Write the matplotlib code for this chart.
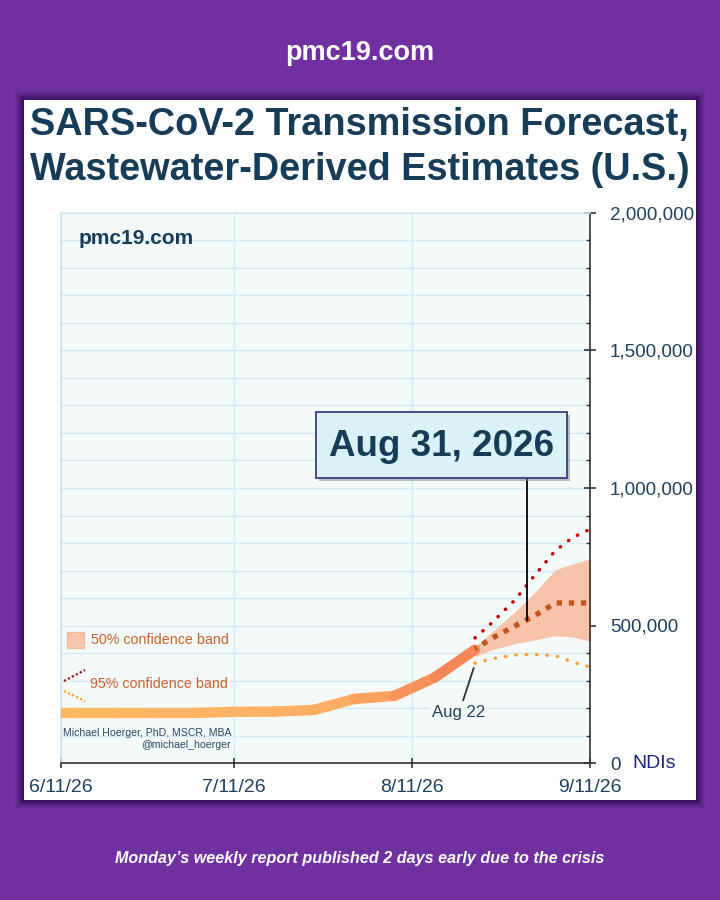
import datetime as dt
import matplotlib
matplotlib.use("Agg")
import matplotlib.pyplot as plt
import matplotlib.dates as mdates
import matplotlib.transforms as mtransforms
from matplotlib.collections import LineCollection
from matplotlib.patches import Rectangle
from matplotlib.lines import Line2D
from matplotlib.colors import LinearSegmentedColormap
import matplotlib.ticker as mticker
import numpy as np

plt.rcParams['font.family'] = ['Liberation Sans', 'DejaVu Sans']

# ---------------- data ----------------
hist_dates = ['2026-06-06', '2026-06-13', '2026-06-20', '2026-06-27', '2026-07-04',
              '2026-07-11', '2026-07-18', '2026-07-25', '2026-08-01', '2026-08-08',
              '2026-08-15', '2026-08-22']
hist_vals = [182000, 182000, 182000, 182000, 182000,
             186000, 187000, 193000, 233000, 244000,
             311000, 412000]

fc_dates = ['2026-08-22', '2026-08-25', '2026-08-29', '2026-09-01',
            '2026-09-05', '2026-09-08', '2026-09-12']
fc_median = [415000, 454000, 499000, 531000, 582000, 582000, 582000]
fc_p75 = [424000, 478000, 551000, 612000, 703000, 724000, 748000]
fc_p25 = [387000, 412000, 434000, 446000, 463000, 458000, 438000]
fc_p975 = [455000, 511000, 594000, 673000, 773000, 820000, 860000]
fc_p025 = [363000, 379000, 393000, 395000, 390000, 367000, 343000]

x_ticks = ['2026-06-11', '2026-07-11', '2026-08-11', '2026-09-11']
x_tick_labels = ['6/11/26', '7/11/26', '8/11/26', '9/11/26']
y_ticks = [0, 500000, 1000000, 1500000, 2000000]

callout_date = '2026-08-31'
callout_value = 520000
callout_label = 'Aug 31, 2026'
last_obs_date = '2026-08-22'
last_obs_label = 'Aug 22'

# ---------------- helpers ----------------
W, H = 720, 900
def d(s):
    return dt.datetime.strptime(s, '%Y-%m-%d')
def fx(px):
    return px / W
def fy(py):
    return 1 - py / H

PURPLE = '#7030A0'
NAVY = '#173C57'
TICKC = '#1F405E'

fig = plt.figure(figsize=(7.2, 9.0), dpi=100, facecolor=PURPLE)

# panel shadow + panel
for i, a in zip(range(9, 0, -1), np.linspace(0.04, 0.22, 9)):
    fig.patches.append(Rectangle((fx(24 - i), fy(800 + i)), (672 + 2 * i) / W, (700 + 2 * i) / H,
                                 transform=fig.transFigure, facecolor='#2A0A45', edgecolor='none',
                                 alpha=a, zorder=-2))
fig.patches.append(Rectangle((fx(24), fy(800)), 672 / W, 700 / H, transform=fig.transFigure,
                             facecolor='white', edgecolor='none', zorder=-1))

# header / footer
fig.text(0.5, fy(53), 'pmc19.com', color='white', fontsize=19.5, fontweight='bold',
         ha='center', va='center')
fig.text(0.5, fy(858), 'Monday\u2019s weekly report published 2 days early due to the crisis',
         color='white', fontsize=11.6, fontweight='bold', style='italic', ha='center', va='center')

# title
fig.text(fx(30), fy(135), 'SARS-CoV-2 Transmission Forecast,', color=NAVY, fontsize=27.3,
         fontweight='bold', ha='left', va='baseline')
fig.text(fx(30), fy(180), 'Wastewater-Derived Estimates (U.S.)', color=NAVY, fontsize=27.3,
         fontweight='bold', ha='left', va='baseline')

# axes
L, R, T, B = 61, 590, 213, 763
ax = fig.add_axes([fx(L), fy(B), (R - L) / W, (B - T) / H])
ax.set_zorder(1)
ax.set_facecolor('#F3FAF9')
ax.set_xlim(d('2026-06-11'), d('2026-09-11'))
ax.set_ylim(0, 2000000)
ax.set_axisbelow(True)

for sp in ['top', 'left']:
    ax.spines[sp].set_color('#CDE6F2')
    ax.spines[sp].set_linewidth(1.2)
ax.spines['right'].set_color('#333333')
ax.spines['bottom'].set_color('#333333')
ax.spines['right'].set_linewidth(1.2)
ax.spines['bottom'].set_linewidth(1.2)

ax.yaxis.tick_right()
ax.set_yticks(y_ticks)
ax.set_yticklabels([f'{v:,}' for v in y_ticks])
ax.yaxis.set_minor_locator(mticker.MultipleLocator(100000))
ax.tick_params(axis='y', which='major', direction='inout', length=8.6, width=1.2,
               colors='#333333', labelcolor=TICKC, labelsize=13.6, pad=10)
ax.tick_params(axis='y', which='minor', direction='in', length=3, width=1, colors='#333333')

ax.set_xticks([d(s) for s in x_ticks])
ax.set_xticklabels(x_tick_labels)
ax.tick_params(axis='x', which='major', direction='inout', length=7, width=1.2,
               colors='#333333', labelcolor=TICKC, labelsize=14, pad=8)

ax.grid(True, axis='y', which='both', color='#D4E9F5', lw=1)
ax.grid(True, axis='x', which='major', color='#D4E9F5', lw=1)

fig.text(fx(632), fy(763), 'NDIs', color='#1B237A', fontsize=14, ha='left', va='center')

# 50% band
fdates = [d(s) for s in fc_dates]
ax.fill_between(fdates, fc_p25, fc_p75, color='#F7C4A9', lw=0, zorder=2)

# historical line with gradient
hx = mdates.date2num([d(s) for s in hist_dates])
pts = np.column_stack([hx, hist_vals])
segs = np.stack([pts[:-1], pts[1:]], axis=1)
cmap = LinearSegmentedColormap.from_list('g', ['#FFB864', '#FFAE62', '#F57E55'])
mids = (hx[:-1] + hx[1:]) / 2
x0 = mdates.date2num(d('2026-06-11'))
x1 = mdates.date2num(d(last_obs_date))
cols = cmap(np.clip((mids - x0) / (x1 - x0), 0, 1) ** 1.6)
lc = LineCollection(segs, colors=cols, linewidths=7.5, capstyle='round', joinstyle='round', zorder=4)
ax.add_collection(lc)

# forecast lines
ax.plot(fdates, fc_p975, color='#C00000', lw=2.5, linestyle=(0, (0.1, 2.9)),
        dash_capstyle='round', zorder=3)
ax.plot(fdates, fc_p025, color='#FFA030', lw=2.5, linestyle=(0, (0.1, 2.9)),
        dash_capstyle='round', zorder=3)
ax.plot(fdates, fc_median, color='#C4531C', lw=3.8, linestyle=(0.6, (1.0, 1.3)),
        dash_capstyle='butt', zorder=5)

# inner watermark + legend + attribution
fig.text(fx(79), fy(238), 'pmc19.com', color=NAVY, fontsize=15, fontweight='bold',
         ha='left', va='center', zorder=6)
fig.patches.append(Rectangle((fx(67), fy(648)), 17 / W, 16 / H, transform=fig.transFigure,
                             facecolor='#F8C6AE', edgecolor='#F2B596', lw=0.8, zorder=6))
LEGC = '#D0602A'
fig.text(fx(91), fy(640), '50% confidence band', color=LEGC, fontsize=10.3, ha='left',
         va='center', zorder=6)
fig.text(fx(90), fy(684), '95% confidence band', color=LEGC, fontsize=10.3, ha='left',
         va='center', zorder=6)
fig.lines.append(Line2D([fx(64), fx(85)], [fy(681), fy(670)], transform=fig.transFigure,
                        color='#A01818', lw=1.6, linestyle=(0, (1, 1)), zorder=6))
fig.lines.append(Line2D([fx(64), fx(85)], [fy(691), fy(701)], transform=fig.transFigure,
                        color='#FFA030', lw=1.6, linestyle=(0, (1, 1)), zorder=6))
fig.text(fx(63), fy(733), 'Michael Hoerger, PhD, MSCR, MBA', color='#2B4766', fontsize=7.6,
         ha='left', va='center', zorder=6)
fig.text(fx(231), fy(745), '@michael_hoerger', color='#2B4766', fontsize=7.6,
         ha='right', va='center', zorder=6)

# Aug 22 annotation
ax.annotate(last_obs_label, xy=(d(last_obs_date), 360000), xycoords='data',
            xytext=(fx(459), fy(713)), textcoords='figure fraction',
            ha='center', va='center', fontsize=12, color=TICKC, zorder=7,
            bbox=dict(boxstyle='square,pad=0.15', fc='#F3FAF9', ec='none'),
            arrowprops=dict(arrowstyle='-', color='#333333', lw=1.3, shrinkA=2, shrinkB=3))

# Aug 31 callout
cd = mdates.date2num(d(callout_date))
box_l, box_r, box_t, box_b = 316, 567, 412, 478
fig.patches.append(Rectangle((fx(box_l + 3), fy(box_b + 3)), (box_r - box_l) / W, (box_b - box_t) / H,
                             transform=fig.transFigure, facecolor='#8A8A8A', edgecolor='none',
                             alpha=0.55, zorder=7))
fig.patches.append(Rectangle((fx(box_l), fy(box_b)), (box_r - box_l) / W, (box_b - box_t) / H,
                             transform=fig.transFigure, facecolor='#DAF2F7', edgecolor='#3C3C8C',
                             lw=1.3, zorder=8))
fig.text(fx((box_l + box_r) / 2), fy((box_t + box_b) / 2 + 1), callout_label, color=NAVY,
         fontsize=26.5, fontweight='bold', ha='center', va='center', zorder=9)
ybot = fig.transFigure.inverted().transform(ax.transData.transform((cd, callout_value)))[1]
btrans = mtransforms.blended_transform_factory(ax.transData, fig.transFigure)
fig.lines.append(Line2D([cd, cd], [fy(box_b), ybot], transform=btrans,
                        color='black', lw=1.3, zorder=6))

fig.savefig('out.png', dpi=100, facecolor=PURPLE)
